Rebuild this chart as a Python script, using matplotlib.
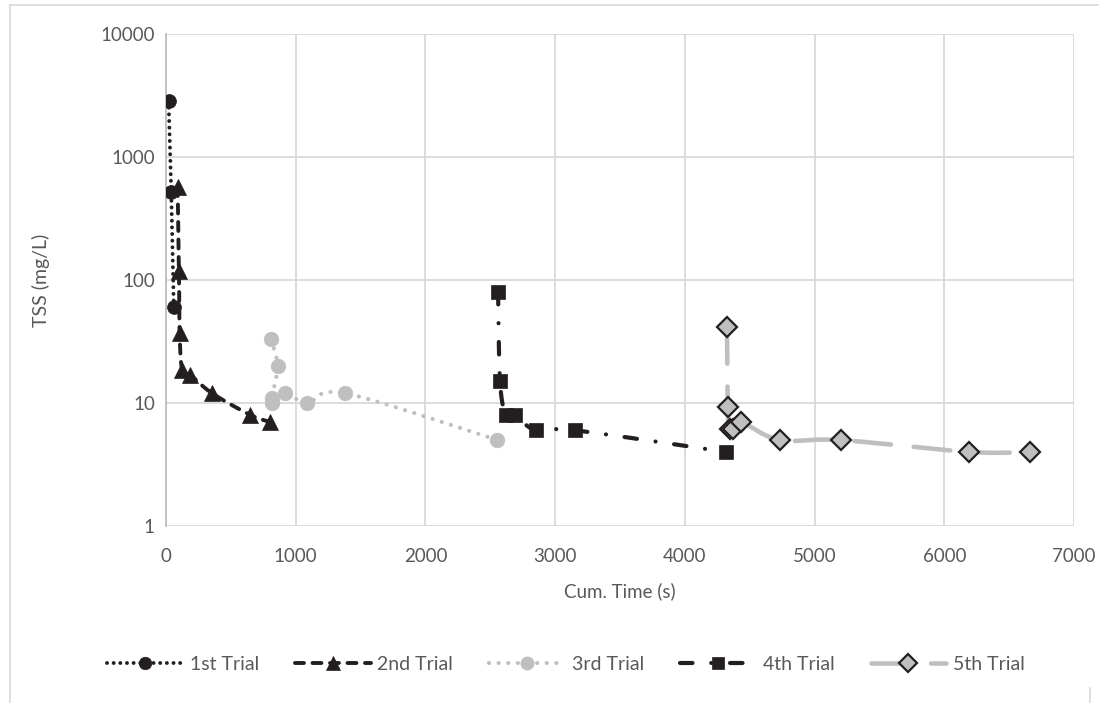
import numpy as np
import matplotlib
matplotlib.use("Agg")
import matplotlib.pyplot as plt
from matplotlib.lines import Line2D

# ---- data ----
t1_x = [20, 40, 60]
t1_y = [2850, 520, 60]
t2_x = [90, 100, 105, 125, 185, 355, 650, 805]
t2_y = [570, 118, 37, 18.5, 17, 12, 8, 7]
t3_x = [810, 860, 815, 820, 920, 1090, 1380, 2555]
t3_y = [33, 20, 11, 10, 12, 10, 12, 5]
t4_x = [2560, 2575, 2620, 2690, 2850, 3150, 4320]
t4_y = [80, 15, 8, 8, 6, 6, 4]
t5_x = [4325, 4330, 4345, 4370, 4433, 4730, 5200, 6190, 6660]
t5_y = [41.5, 9.2, 6.1, 6.1, 7, 5, 5, 4, 4]
labels = ["1st Trial", "2nd Trial", "3rd Trial", "4th Trial", "5th Trial"]
x_ticks = [0, 1000, 2000, 3000, 4000, 5000, 6000, 7000]
y_ticks = [1, 10, 100, 1000, 10000]

plt.rcParams['font.family'] = ['Lato', 'DejaVu Sans']
TXT = '#595959'
DARK = '#231F20'
GRAY = '#BFBFBF'

W, H = 1099, 703
fig = plt.figure(figsize=(W / 100, H / 100), dpi=100)
ax = fig.add_axes([166 / W, 1 - 526 / H, (1074 - 166) / W, (526 - 34) / H])


def smooth(xs, ys, n=40):
    u = np.asarray(xs, float) * 908 / 7000
    v = np.log10(np.asarray(ys, float)) * 123
    P = np.column_stack([u, v])
    m = len(P)
    out = [P[0]]
    for i in range(m - 1):
        p0 = P[i - 1] if i > 0 else P[i]
        p1 = P[i]
        p2 = P[i + 1]
        p3 = P[i + 2] if i + 2 < m else P[i + 1]
        c1 = p1 + (p2 - p0) / 6
        c2 = p2 - (p3 - p1) / 6
        t = np.linspace(0, 1, n)[1:, None]
        seg = ((1 - t) ** 3) * p1 + 3 * ((1 - t) ** 2) * t * c1 + 3 * (1 - t) * t ** 2 * c2 + t ** 3 * p2
        out.extend(seg)
    out = np.array(out)
    return out[:, 0] * 7000 / 908, 10 ** (out[:, 1] / 123)


series = [
    dict(x=t1_x, y=t1_y, color=DARK, lw=2.8, dashes=(0.01, 1.7), marker='o', ms=10, mfc=DARK, mec=DARK, mew=0.5),
    dict(x=t2_x, y=t2_y, color=DARK, lw=2.8, dashes=(2.3, 2.2), marker='^', ms=11, mfc=DARK, mec=DARK, mew=0.5),
    dict(x=t3_x, y=t3_y, color=GRAY, lw=3.0, dashes=(0.01, 2.3), marker='o', ms=10.5, mfc=GRAY, mec=GRAY, mew=0.5),
    dict(x=t4_x, y=t4_y, color=DARK, lw=3.0, dashes=(3.0, 4.5, 0.01, 4.5), marker='s', ms=10, mfc=DARK, mec=DARK, mew=0.5),
    dict(x=t5_x, y=t5_y, color=GRAY, lw=3.3, dashes=(8.0, 5.0), marker='D', ms=10.5, mfc=GRAY, mec=DARK, mew=1.6),
]

handles = []
for k, s in enumerate(series):
    sx, sy = smooth(s['x'], s['y'])
    ax.plot(sx, sy, color=s['color'], lw=s['lw'], dashes=s['dashes'],
            dash_capstyle='round', solid_capstyle='round', zorder=3 + k)
    ax.plot(s['x'], s['y'], linestyle='none', marker=s['marker'], ms=s['ms'],
            mfc=s['mfc'], mec=s['mec'], mew=s['mew'], zorder=3.5 + k)
    h = Line2D([], [], color=s['color'], lw=s['lw'], dashes=s['dashes'],
               dash_capstyle='round', marker=s['marker'], ms=s['ms'] * 0.9,
               mfc=s['mfc'], mec=s['mec'], mew=s['mew'])
    handles.append(h)

ax.set_yscale('log')
ax.set_xlim(0, 7000)
ax.set_ylim(1, 10000)
ax.set_xticks(x_ticks)
ax.set_xticklabels([str(v) for v in x_ticks])
ax.set_yticks(y_ticks)
ax.set_yticklabels([str(v) for v in y_ticks])
ax.yaxis.set_minor_locator(matplotlib.ticker.NullLocator())
ax.tick_params(axis='both', length=0, labelsize=13.5, labelcolor=TXT)
ax.tick_params(axis='x', pad=16)
ax.tick_params(axis='y', pad=8)
ax.grid(True, which='major', color='#D9D9D9', lw=1.3)
ax.set_axisbelow(True)
for side in ['top', 'right', 'bottom']:
    ax.spines[side].set_visible(False)
ax.spines['left'].set_color('#BFBFBF')
ax.spines['left'].set_linewidth(1.3)

ax.set_xlabel('Cum. Time (s)', fontsize=13.5, color=TXT, labelpad=12)
ax.set_ylabel('TSS (mg/L)', fontsize=14, color=TXT, labelpad=36)

leg = fig.legend(handles=handles, labels=labels, loc='center', ncol=5,
                 bbox_to_anchor=(566 / W, 1 - 664 / H), frameon=False,
                 fontsize=14, handlelength=3.9, handletextpad=0.35,
                 columnspacing=1.85, labelcolor=TXT)

# chart area border
fig.add_artist(Line2D([10 / W, 1.0], [1 - 5 / H, 1 - 5 / H], color='#D9D9D9', lw=1.2, transform=fig.transFigure))
fig.add_artist(Line2D([10 / W, 10 / W], [0, 1 - 5 / H], color='#D9D9D9', lw=1.2, transform=fig.transFigure))
fig.add_artist(Line2D([1090 / W, 1090 / W], [0, 1 - 688 / H], color='#D9D9D9', lw=1.2, transform=fig.transFigure))

fig.savefig('out.png', dpi=100)
